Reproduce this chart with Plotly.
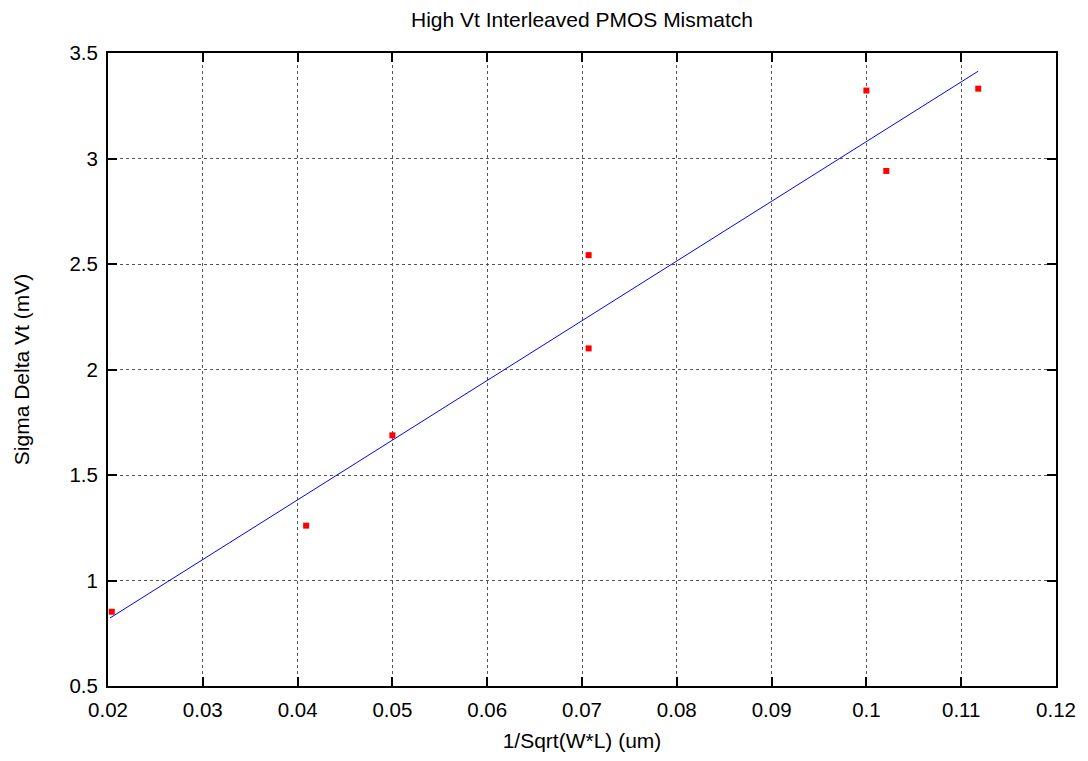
import plotly.graph_objects as go

# Measured data points
x_data = [0.0204, 0.0409, 0.0500, 0.0707, 0.0707, 0.1000, 0.1021, 0.1118]
y_data = [0.852, 1.260, 1.688, 2.542, 2.100, 3.322, 2.941, 3.331]

# Linear fit line endpoints
fit_x = [0.0202, 0.1118]
fit_y = [0.822, 3.414]

x_range = [0.02, 0.12]
y_range = [0.5, 3.5]

font_family = "Liberation Sans, Arial, Helvetica, sans-serif"

fig = go.Figure()
fig.add_trace(go.Scatter(
    x=fit_x, y=fit_y, mode="lines",
    line=dict(color="#0000ff", width=1), showlegend=False, hoverinfo="skip"))
fig.add_trace(go.Scatter(
    x=x_data, y=y_data, mode="markers",
    marker=dict(symbol="square", size=6, color="#ff0000", line=dict(width=0)),
    showlegend=False))

axis_common = dict(
    showline=True, linecolor="black", linewidth=2, mirror="ticks",
    ticks="inside", ticklen=9, tickwidth=1.5, tickcolor="black",
    showgrid=True, gridcolor="#555555", gridwidth=1, griddash="dot",
    zeroline=False, ticklabelstandoff=4,
    tickfont=dict(family=font_family, size=20.5, color="black"),
)

fig.update_layout(
    width=1088, height=761,
    paper_bgcolor="white", plot_bgcolor="white",
    margin=dict(l=108, r=28, t=53, b=69),
    title=dict(text="High Vt Interleaved PMOS Mismatch", x=0.5, xref="paper",
               xanchor="center", y=1 - 19.5 / 761, yanchor="middle",
               font=dict(family=font_family, size=21, color="black")),
    xaxis=dict(range=x_range, dtick=0.01, tick0=0.02,
               title=dict(text="1/Sqrt(W*L) (um)", standoff=14,
                          font=dict(family=font_family, size=21, color="black")),
               **axis_common),
    yaxis=dict(range=y_range, dtick=0.5, tick0=0.5,
               title=dict(text="Sigma Delta Vt (mV)", standoff=34,
                          font=dict(family=font_family, size=21, color="black")),
               **axis_common),
)

fig.write_html(
    "out.html",
    config={"displayModeBar": False},
    post_script="document.body.style.margin='0';document.body.style.padding='0';"
                "document.documentElement.style.overflow='hidden';"
                "document.body.style.overflow='hidden';",
)
